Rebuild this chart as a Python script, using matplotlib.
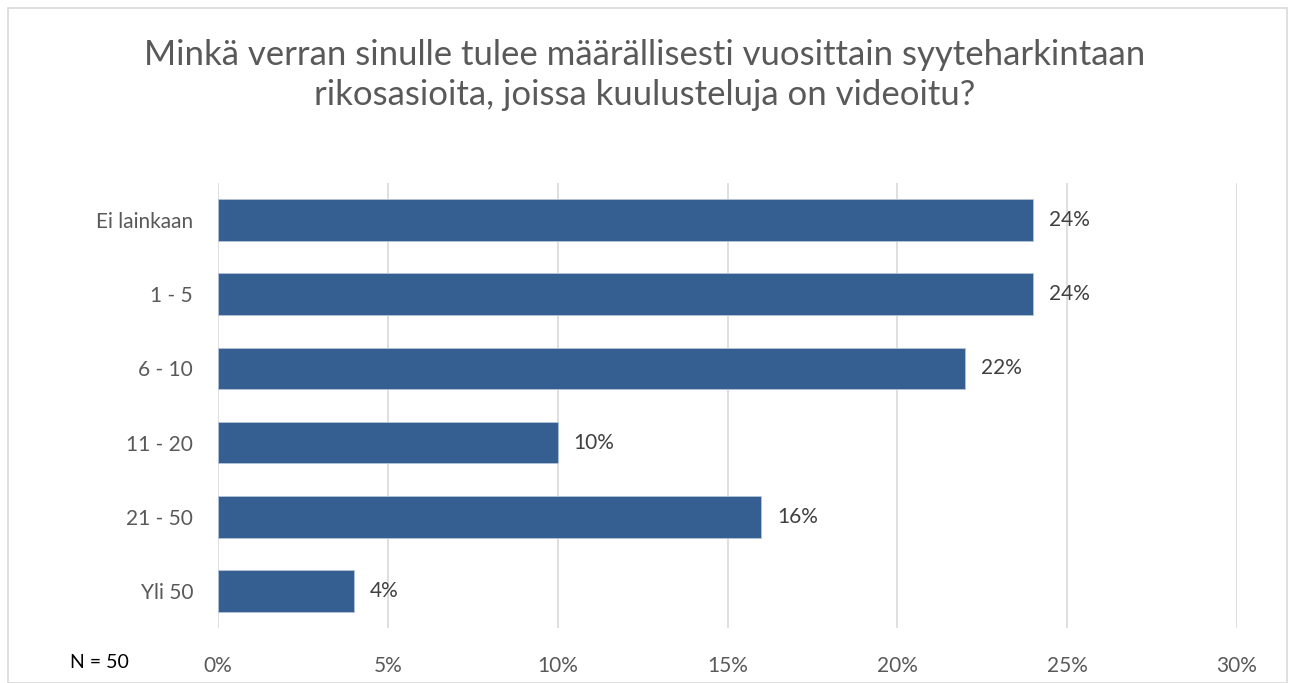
import matplotlib
matplotlib.use("Agg")
import matplotlib.pyplot as plt
from matplotlib.patches import Rectangle

categories = ["Ei lainkaan", "1 - 5", "6 - 10", "11 - 20", "21 - 50", "Yli 50"]
values = [24, 24, 22, 10, 16, 4]
xticks = [0, 5, 10, 15, 20, 25, 30]
xtick_labels = ["0%", "5%", "10%", "15%", "20%", "25%", "30%"]
title = "Minkä verran sinulle tulee määrällisesti vuosittain syyteharkintaan\nrikosasioita, joissa kuulusteluja on videoitu?"
note = "N = 50"

plt.rcParams['font.family'] = ['Lato', 'DejaVu Sans']

W, H = 1290, 683
fig = plt.figure(figsize=(W/100, H/100), dpi=100)
fig.patches.append(Rectangle((8/W, 0), (1287-8)/W, (H-8)/H, transform=fig.transFigure,
                             fill=False, edgecolor='#D9D9D9', linewidth=1.2))

ax = fig.add_axes([218/W, 1-628/H, (1237-218)/W, (628-183)/H])
ypos = list(range(len(categories)))
ax.barh(ypos, values, height=0.56, color='#365F91', edgecolor='#B4C4DA', linewidth=0.6, zorder=3)
ax.set_xlim(0, 30)
ax.set_ylim(len(categories)-0.5, -0.5)
ax.set_xticks(xticks)
ax.set_xticklabels(xtick_labels)
ax.set_yticks(ypos)
ax.set_yticklabels(categories)
ax.tick_params(axis='both', length=0, labelsize=15, labelcolor='#595959')
ax.tick_params(axis='x', pad=20)
ax.tick_params(axis='y', pad=18)
ax.grid(axis='x', color='#D9D9D9', linewidth=1.2, zorder=0)
for s in ax.spines.values():
    s.set_visible(False)

for y, v in zip(ypos, values):
    ax.text(v + 0.47, y, f"{v}%", va='center', ha='left', fontsize=15, color='#404040')

fig.text(0.5, 1-75/H, title, ha='center', va='center', fontsize=25, color='#595959', linespacing=1.3)
fig.text(70/W, 1-663/H, note, ha='left', va='center', fontsize=14, color='black')

fig.savefig("out.png", dpi=100)
